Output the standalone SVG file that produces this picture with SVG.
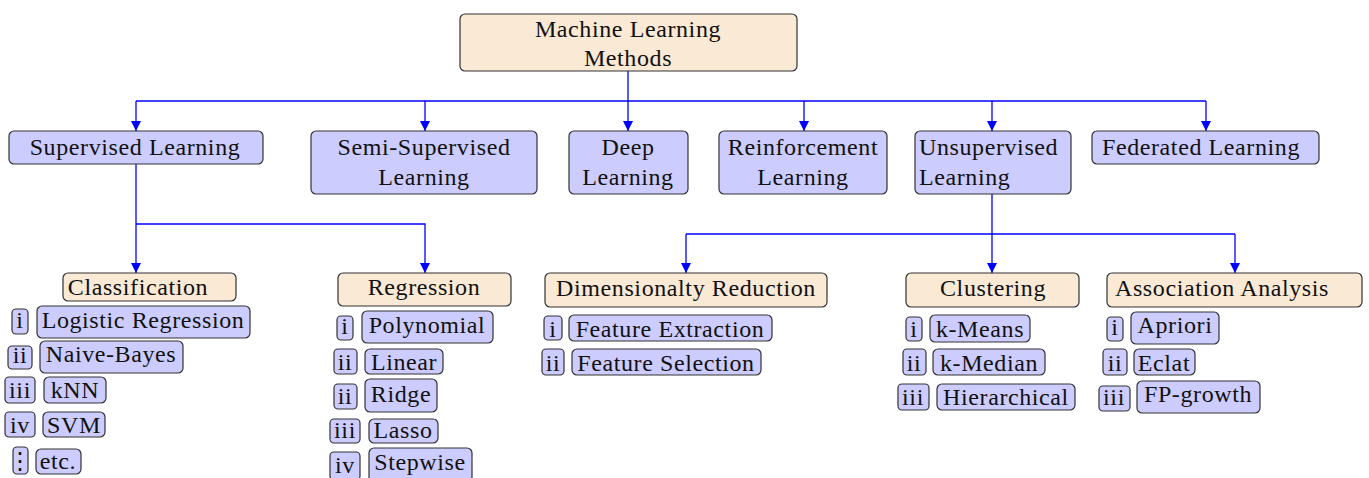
<svg xmlns="http://www.w3.org/2000/svg" width="1369" height="478" viewBox="0 0 1369 478">
<style>
text{font-family:"Liberation Serif","Times New Roman",serif;font-size:24px;fill:#111;letter-spacing:0.6px}
.c{text-anchor:middle}
.b rect{fill:#ccccff;stroke:#333;stroke-width:1.2}
.t rect{fill:#f9e9d5;stroke:#333;stroke-width:1.2}
.conn path{fill:none;stroke:#0000ff;stroke-width:1.3}
</style>
<defs>
<marker id="ah" viewBox="0 0 10 10" refX="10" refY="5" markerUnits="userSpaceOnUse" markerWidth="10" markerHeight="15" orient="auto">
<path d="M0,0 L10,5 L0,10 z" fill="#0000ff"/>
</marker>
</defs>
<g class="conn">
<path d="M628,71 V101"/>
<path d="M136,101 H1206"/>
<path d="M136,101 V131" marker-end="url(#ah)"/>
<path d="M425,101 V131" marker-end="url(#ah)"/>
<path d="M628,101 V131" marker-end="url(#ah)"/>
<path d="M804,101 V131" marker-end="url(#ah)"/>
<path d="M992,101 V131" marker-end="url(#ah)"/>
<path d="M1206,101 V131" marker-end="url(#ah)"/>
<path d="M136,164 V273" marker-end="url(#ah)"/>
<path d="M136,224 H425 V273" marker-end="url(#ah)"/>
<path d="M992,194 V273" marker-end="url(#ah)"/>
<path d="M686,234 H1235"/>
<path d="M686,234 V273" marker-end="url(#ah)"/>
<path d="M1235,234 V273" marker-end="url(#ah)"/>
</g>
<g id="root" class="t"><rect x="460" y="14" width="337" height="57" rx="5"/><text class="c" x="628" y="37">Machine Learning</text><text class="c" x="628" y="66">Methods</text></g>
<g id="supervised" class="b"><rect x="9" y="131" width="254" height="33" rx="5"/><text class="c" x="135" y="155">Supervised Learning</text></g>
<g id="semi" class="b"><rect x="311" y="131" width="226" height="63" rx="5"/><text class="c" x="424" y="155">Semi-Supervised</text><text class="c" x="424" y="185">Learning</text></g>
<g id="deep" class="b"><rect x="569" y="131" width="119" height="63" rx="5"/><text class="c" x="628" y="155">Deep</text><text class="c" x="628" y="185">Learning</text></g>
<g id="reinforcement" class="b"><rect x="719" y="131" width="168" height="63" rx="5"/><text class="c" x="803" y="155">Reinforcement</text><text class="c" x="803" y="185">Learning</text></g>
<g id="unsupervised" class="b"><rect x="915" y="131" width="156" height="63" rx="5"/><text x="919" y="155">Unsupervised</text><text x="919" y="185">Learning</text></g>
<g id="federated" class="b"><rect x="1092" y="131" width="227" height="33" rx="5"/><text class="c" x="1201" y="155">Federated Learning</text></g>
<g id="classification" class="t"><rect x="63" y="273" width="173" height="28" rx="5"/><text class="c" x="138" y="295">Classification</text></g>
<g id="regression" class="t"><rect x="338" y="273" width="173" height="33" rx="5"/><text class="c" x="424" y="295">Regression</text></g>
<g id="dimred" class="t"><rect x="545" y="273" width="282" height="34" rx="5"/><text class="c" x="686" y="296">Dimensionalty Reduction</text></g>
<g id="clustering" class="t"><rect x="906" y="273" width="173" height="34" rx="5"/><text class="c" x="993" y="296">Clustering</text></g>
<g id="association" class="t"><rect x="1107" y="273" width="255" height="34" rx="5"/><text class="c" x="1222" y="296">Association Analysis</text></g>
<g id="c1" class="b"><rect x="12" y="309" width="16" height="25" rx="4"/><text class="c" x="20" y="328">i</text><rect x="37" y="306" width="213" height="32" rx="5"/><text class="c" x="143" y="328">Logistic Regression</text></g>
<g id="c2" class="b"><rect x="8" y="346" width="24" height="23" rx="4"/><text class="c" x="20" y="363">ii</text><rect x="40" y="341" width="143" height="32" rx="5"/><text class="c" x="111" y="362">Naive-Bayes</text></g>
<g id="c3" class="b"><rect x="5" y="377" width="30" height="26" rx="4"/><text class="c" x="20" y="398">iii</text><rect x="44" y="377" width="62" height="26" rx="5"/><text class="c" x="75" y="398">kNN</text></g>
<g id="c4" class="b"><rect x="5" y="412" width="30" height="25" rx="4"/><text class="c" x="20" y="433">iv</text><rect x="43" y="412" width="62" height="25" rx="5"/><text class="c" x="74" y="433">SVM</text></g>
<g id="c5" class="b"><rect x="13" y="447" width="15" height="27" rx="4"/><text class="c" x="20" y="469">⋮</text><rect x="36" y="449" width="45" height="25" rx="5"/><text class="c" x="58" y="469">etc.</text></g>
<g id="r1" class="b"><rect x="337" y="316" width="16" height="24" rx="4"/><text class="c" x="345" y="334">i</text><rect x="362" y="311" width="131" height="32" rx="5"/><text class="c" x="427" y="333">Polynomial</text></g>
<g id="r2" class="b"><rect x="334" y="349" width="23" height="25" rx="4"/><text class="c" x="345" y="370">ii</text><rect x="365" y="349" width="78" height="25" rx="5"/><text class="c" x="404" y="370">Linear</text></g>
<g id="r3" class="b"><rect x="334" y="384" width="23" height="25" rx="4"/><text class="c" x="345" y="404">ii</text><rect x="365" y="379" width="72" height="33" rx="5"/><text class="c" x="401" y="402">Ridge</text></g>
<g id="r4" class="b"><rect x="330" y="419" width="30" height="24" rx="4"/><text class="c" x="345" y="438">iii</text><rect x="369" y="419" width="69" height="24" rx="5"/><text class="c" x="403" y="438">Lasso</text></g>
<g id="r5" class="b"><rect x="330" y="452" width="30" height="28" rx="4"/><text class="c" x="345" y="473">iv</text><rect x="369" y="448" width="103" height="34" rx="5"/><text class="c" x="420" y="470">Stepwise</text></g>
<g id="d1" class="b"><rect x="544" y="316" width="18" height="24" rx="4"/><text class="c" x="553" y="337">i</text><rect x="569" y="315" width="203" height="26" rx="5"/><text class="c" x="670" y="337">Feature Extraction</text></g>
<g id="d2" class="b"><rect x="542" y="349" width="22" height="26" rx="4"/><text class="c" x="553" y="371">ii</text><rect x="572" y="349" width="189" height="26" rx="5"/><text class="c" x="666" y="371">Feature Selection</text></g>
<g id="k1" class="b"><rect x="906" y="317" width="16" height="24" rx="4"/><text class="c" x="914" y="337">i</text><rect x="930" y="315" width="100" height="27" rx="5"/><text class="c" x="980" y="337">k-Means</text></g>
<g id="k2" class="b"><rect x="903" y="349" width="23" height="26" rx="4"/><text class="c" x="914" y="371">ii</text><rect x="933" y="349" width="112" height="26" rx="5"/><text class="c" x="989" y="371">k-Median</text></g>
<g id="k3" class="b"><rect x="898" y="384" width="31" height="26" rx="4"/><text class="c" x="913" y="405">iii</text><rect x="937" y="384" width="138" height="26" rx="5"/><text class="c" x="1006" y="405">Hierarchical</text></g>
<g id="a1" class="b"><rect x="1107" y="317" width="16" height="24" rx="4"/><text class="c" x="1115" y="335">i</text><rect x="1131" y="312" width="88" height="32" rx="5"/><text class="c" x="1175" y="333">Apriori</text></g>
<g id="a2" class="b"><rect x="1103" y="349" width="24" height="26" rx="4"/><text class="c" x="1115" y="371">ii</text><rect x="1134" y="349" width="61" height="26" rx="5"/><text class="c" x="1164" y="371">Eclat</text></g>
<g id="a3" class="b"><rect x="1099" y="386" width="31" height="25" rx="4"/><text class="c" x="1114" y="405">iii</text><rect x="1137" y="381" width="123" height="32" rx="5"/><text class="c" x="1198" y="402">FP-growth</text></g>
</svg>
